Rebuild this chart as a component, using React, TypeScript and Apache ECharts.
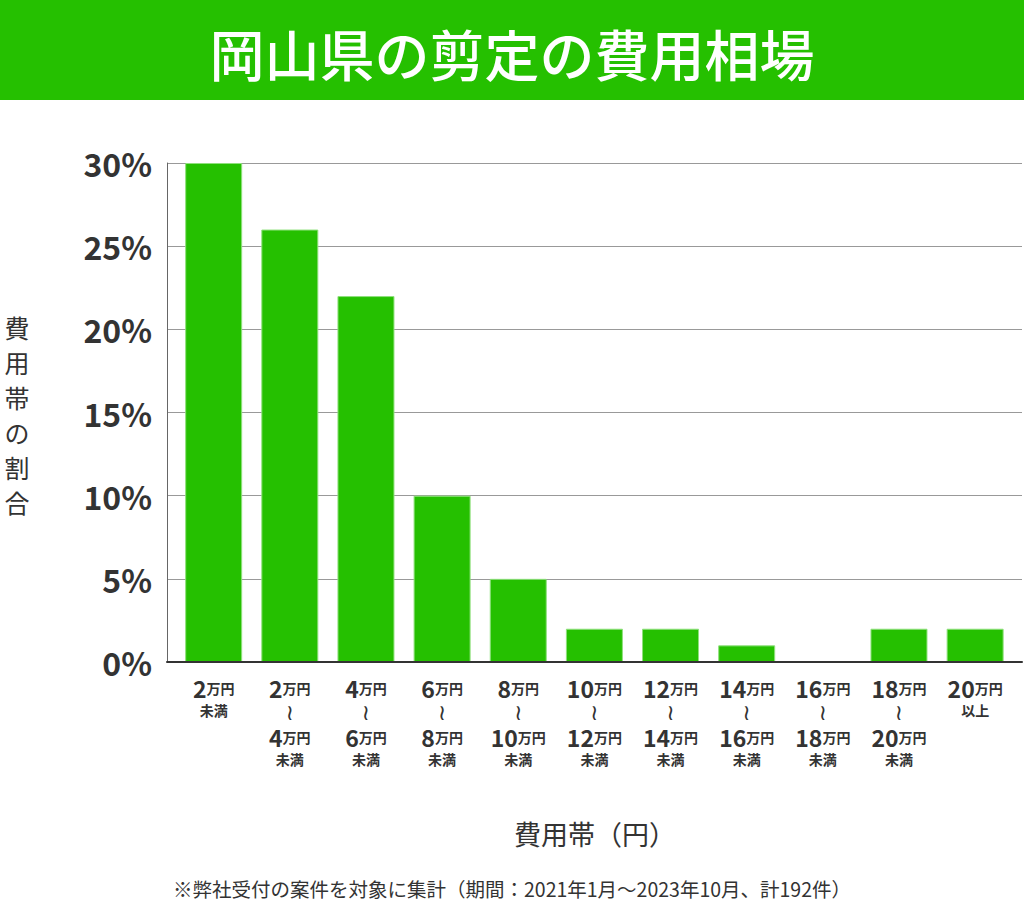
import React, { useEffect, useRef } from "react";
import * as echarts from "echarts";

const categories = [
  ["2", "", "未満"],
  ["2", "4", "未満"],
  ["4", "6", "未満"],
  ["6", "8", "未満"],
  ["8", "10", "未満"],
  ["10", "12", "未満"],
  ["12", "14", "未満"],
  ["14", "16", "未満"],
  ["16", "18", "未満"],
  ["18", "20", "未満"],
  ["20", "", "以上"],
];
const values = [30, 26, 22, 10, 5, 2, 2, 1, 0, 2, 2];
const yTicks = [0, 5, 10, 15, 20, 25, 30];

const TITLE = "岡山県の剪定の費用相場";
const Y_NAME = "費用帯の割合";
const X_NAME = "費用帯（円）";
const NOTE = "※弊社受付の案件を対象に集計（期間：2021年1月～2023年10月、計192件）";

const GREEN = "#25c000";
const TEXT = "#333333";
const FONT = "'Noto Sans CJK JP', 'Noto Sans', sans-serif";

export default function App() {
  const ref = useRef<HTMLDivElement>(null);
  useEffect(() => {
    document.body.style.margin = "0";
    const chart = echarts.init(ref.current!, null, { renderer: "svg" });
    const labels = categories.map((c) => c.join("|"));
    chart.setOption({
      animation: false,
      backgroundColor: "#ffffff",
      textStyle: { fontFamily: FONT },
      grid: [
        { left: 175.6, top: 163, width: 837.6, height: 499 },
        { left: 167, top: 163, width: 855, height: 499 },
      ],
      xAxis: [
        {
          type: "category",
          gridIndex: 0,
          data: labels,
          axisLine: { show: false },
          axisTick: { show: false },
          axisLabel: {
            interval: 0,
            margin: 13,
            color: TEXT,
            fontFamily: FONT,
            formatter: (v: string) => {
              const [a, b, s] = v.split("|");
              if (b) {
                return `{n|${a}}{u|万円}\n{w|≀}\n{n|${b}}{u|万円}\n{s|${s}}`;
              }
              return `{n|${a}}{u|万円}\n{s|${s}}`;
            },
            rich: {
              n: { fontSize: 23, fontWeight: "bold", color: TEXT, lineHeight: 25, fontFamily: FONT },
              u: { fontSize: 14, fontWeight: "bold", color: TEXT, lineHeight: 25, fontFamily: FONT },
              w: { fontSize: 22, color: TEXT, lineHeight: 24, fontFamily: "DejaVu Sans" },
              s: { fontSize: 14, fontWeight: "bold", color: TEXT, lineHeight: 20, fontFamily: FONT },
            },
          },
        },
        {
          type: "value",
          gridIndex: 1,
          min: 0,
          max: 1,
          z: 10,
          axisLine: { show: true, lineStyle: { color: "#333333", width: 2 } },
          axisTick: { show: false },
          axisLabel: { show: false },
          splitLine: { show: false },
        },
      ],
      yAxis: [
        { type: "value", gridIndex: 0, min: 0, max: 30, interval: 5, show: false },
        {
          type: "value",
          gridIndex: 1,
          min: yTicks[0],
          max: yTicks[yTicks.length - 1],
          interval: 5,
          axisLine: { show: true, lineStyle: { color: "#666666", width: 1 } },
          axisTick: { show: false },
          splitLine: { show: true, lineStyle: { color: "#999999", width: 1 } },
          axisLabel: {
            margin: 15,
            color: TEXT,
            fontSize: 32,
            fontWeight: "bold",
            fontFamily: FONT,
            formatter: "{value}%",
          },
        },
      ],
      series: [
        {
          type: "bar",
          xAxisIndex: 0,
          yAxisIndex: 0,
          data: values,
          barWidth: 57,
          itemStyle: { color: GREEN, borderColor: "#8fe07c", borderWidth: 1 },
        },
      ],
      graphic: [
        { type: "rect", shape: { x: 0, y: 0, width: 1024, height: 100 }, style: { fill: GREEN }, z: 0 },
        {
          type: "text",
          x: 512,
          y: 52,
          style: {
            text: TITLE,
            fill: "#ffffff",
            fontSize: 55,
            fontWeight: 500,
            fontFamily: FONT,
            textAlign: "center",
            textVerticalAlign: "middle",
          },
        },
        {
          type: "text",
          x: 17,
          y: 414,
          style: {
            text: Y_NAME.split("").join("\n"),
            fill: TEXT,
            fontSize: 25,
            lineHeight: 35,
            fontFamily: FONT,
            textAlign: "center",
            textVerticalAlign: "middle",
          },
        },
        {
          type: "text",
          x: 595,
          y: 833,
          style: {
            text: X_NAME,
            fill: TEXT,
            fontSize: 27,
            fontFamily: FONT,
            textAlign: "center",
            textVerticalAlign: "middle",
          },
        },
        {
          type: "text",
          x: 512,
          y: 888,
          style: {
            text: NOTE,
            fill: TEXT,
            fontSize: 19.5,
            fontFamily: FONT,
            textAlign: "center",
            textVerticalAlign: "middle",
          },
        },
      ],
    });
    return () => chart.dispose();
  }, []);
  return <div ref={ref} style={{ width: 1024, height: 907 }} />;
}
